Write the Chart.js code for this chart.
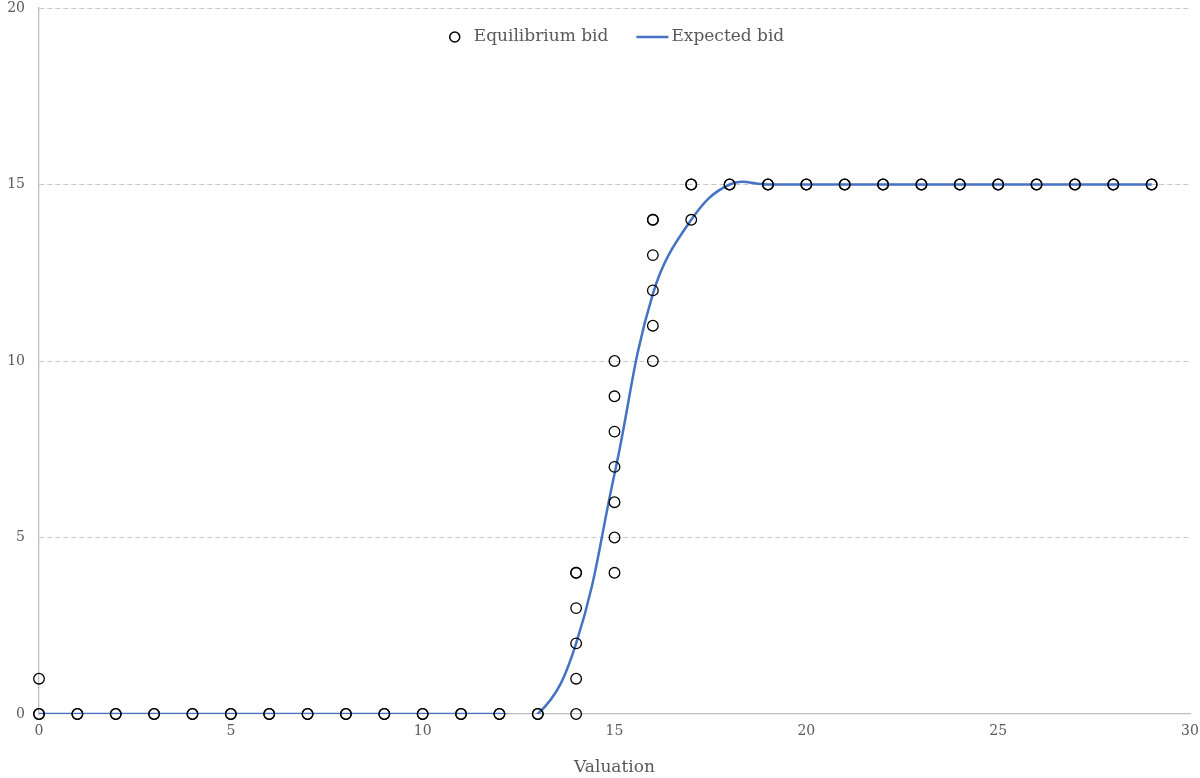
<!DOCTYPE html>
<html>
<head>
<meta charset="utf-8">
<script src="https://cdn.jsdelivr.net/npm/chart.js@4.4.0/dist/chart.umd.min.js"></script>
<style>
    body { margin: 0; background: #fff; }
    #wrap { width: 1200px; height: 778px; position: relative; }
</style>
</head>
<body>
<div id="wrap"><canvas id="myChart"></canvas></div>
<script>
// equilibrium bids (repeated points are overlapping observations)
let eqValuation = [0, 0, 0, 1, 1, 2, 2, 3, 3, 4, 4, 5, 5, 6, 6, 7, 7, 8, 8, 9, 9, 10, 10, 11, 11, 12, 12, 13, 13,
    14, 14, 14, 14, 14, 14, 15, 15, 15, 15, 15, 15, 15, 16, 16, 16, 16, 16, 16, 17, 17, 17,
    18, 18, 19, 19, 20, 20, 21, 21, 22, 22, 23, 23, 24, 24, 25, 25, 26, 26, 27, 27, 28, 28, 29, 29];
let eqBid = [0, 0, 1, 0, 0, 0, 0, 0, 0, 0, 0, 0, 0, 0, 0, 0, 0, 0, 0, 0, 0, 0, 0, 0, 0, 0, 0, 0, 0,
    0, 1, 2, 3, 4, 4, 4, 5, 6, 7, 8, 9, 10, 10, 11, 12, 13, 14, 14, 14, 15, 15,
    15, 15, 15, 15, 15, 15, 15, 15, 15, 15, 15, 15, 15, 15, 15, 15, 15, 15, 15, 15, 15, 15, 15, 15];

// expected bid per valuation
let valuation = [0, 1, 2, 3, 4, 5, 6, 7, 8, 9, 10, 11, 12, 13, 14, 15, 16, 17, 18, 19, 20, 21, 22, 23, 24, 25, 26, 27, 28, 29];
let expectedBid = [0, 0, 0, 0, 0, 0, 0, 0, 0, 0, 0, 0, 0, 0, 2.0, 6.8, 11.9, 14.0, 15, 15, 15, 15, 15, 15, 15, 15, 15, 15, 15, 15];

let xTicks = [0, 5, 10, 15, 20, 25, 30];
let yTicks = [0, 5, 10, 15, 20];

let fontFam = '"DejaVu Serif", serif';
let textGray = '#595959';
let lineBlue = '#4472C4';

let eqPoints = eqValuation.map((v, i) => ({ x: v, y: eqBid[i] }));
let expPoints = valuation.map((v, i) => ({ x: v, y: expectedBid[i] }));

// legend drawn inside the plot area, like the original
let legendInArea = {
    id: 'legendInArea',
    afterDraw: function (chart) {
        let ctx = chart.ctx;
        let area = chart.chartArea;
        let y = 37;
        ctx.save();
        ctx.font = '17px ' + fontFam;
        ctx.textBaseline = 'middle';
        let items = chart.data.datasets.map(ds => {
            let markW = ds.type === 'line' ? 32 : 20;
            let gap = ds.type === 'line' ? 3 : 9;
            return { ds: ds, markW: markW, gap: gap, textW: ctx.measureText(ds.label).width };
        });
        let spacing = 28;
        let total = items.reduce((s, it) => s + it.markW + it.gap + it.textW, 0) + spacing * (items.length - 1);
        let x = (area.left + area.right) / 2 - total / 2;
        items.forEach(it => {
            if (it.ds.type === 'line') {
                ctx.strokeStyle = it.ds.borderColor;
                ctx.lineWidth = it.ds.borderWidth;
                ctx.beginPath();
                ctx.moveTo(x, y);
                ctx.lineTo(x + it.markW, y);
                ctx.stroke();
            } else {
                ctx.strokeStyle = it.ds.borderColor;
                ctx.lineWidth = 1.5;
                ctx.beginPath();
                ctx.arc(x + it.markW / 2, y, 5, 0, Math.PI * 2);
                ctx.stroke();
            }
            x += it.markW + it.gap;
            ctx.fillStyle = textGray;
            ctx.fillText(it.ds.label, x, y);
            x += it.textW + spacing;
        });
        ctx.restore();
    }
};

let ctx = document.getElementById('myChart');

let myChart = new Chart(ctx, {
    type: 'scatter',
    data: {
        datasets: [{
            type: 'scatter',
            label: 'Equilibrium bid',
            data: eqPoints,
            pointStyle: 'circle',
            pointRadius: 5.3,
            pointHoverRadius: 5.3,
            borderColor: '#000000',
            backgroundColor: 'rgba(0,0,0,0)',
            borderWidth: 1.3,
            clip: false,
            order: 1
        }, {
            type: 'line',
            label: 'Expected bid',
            data: expPoints,
            borderColor: lineBlue,
            borderWidth: 2.5,
            pointRadius: 0,
            tension: 0.4,
            capBezierPoints: false,
            fill: false,
            order: 2
        }]
    },
    options: {
        responsive: true,
        maintainAspectRatio: false,
        animation: false,
        layout: { padding: { top: 8, right: 10, left: 0, bottom: 0 } },
        plugins: {
            legend: { display: false },
            tooltip: { enabled: false }
        },
        scales: {
            x: {
                type: 'linear',
                min: 0,
                max: 30,
                afterFit: function (scale) {
                    scale.height = 64;
                    scale.paddingLeft = 0;
                    scale.paddingRight = 0;
                },
                afterBuildTicks: function (scale) { scale.ticks = xTicks.map(v => ({ value: v })); },
                grid: { display: false, drawTicks: false },
                border: { display: true, color: '#bfbfbf', width: 1.3 },
                ticks: {
                    padding: 9,
                    color: textGray,
                    font: { family: fontFam, size: 14 },
                    maxRotation: 0
                },
                title: {
                    display: true,
                    text: 'Valuation',
                    color: textGray,
                    font: { family: fontFam, size: 17 },
                    padding: { top: 14, bottom: 0 }
                }
            },
            y: {
                type: 'linear',
                min: 0,
                max: 20,
                afterFit: function (scale) {
                    scale.width = 39;
                    scale.paddingTop = 0;
                    scale.paddingBottom = 0;
                },
                afterBuildTicks: function (scale) { scale.ticks = yTicks.map(v => ({ value: v })); },
                grid: {
                    drawTicks: false,
                    color: c => c.tick && c.tick.value === 0 ? 'rgba(0,0,0,0)' : '#c6c6c6',
                    lineWidth: 1
                },
                border: { display: true, color: '#bfbfbf', width: 1.3, dash: [5, 3] },
                ticks: {
                    padding: 14,
                    color: textGray,
                    font: { family: fontFam, size: 14 }
                }
            }
        }
    },
    plugins: [legendInArea]
});
</script>
</body>
</html>
